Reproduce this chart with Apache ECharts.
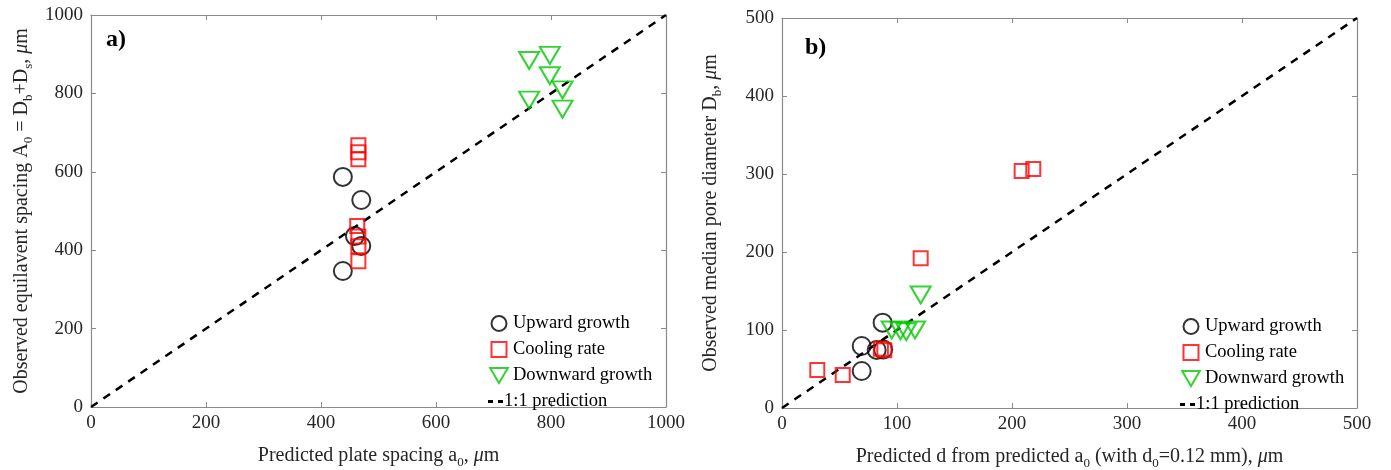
<!DOCTYPE html>
<html>
<head>
<meta charset="utf-8">
<script src="https://cdn.jsdelivr.net/npm/echarts@6/dist/echarts.min.js"></script>
<style>html,body{margin:0;padding:0;background:#fff;}#c{width:1391px;height:470px;}</style>
</head>
<body>
<div id="c"></div>
<script>
// ---- Panel a) data ----
const aUpX = [438, 470, 459, 470, 438];
const aUpY = [587, 528, 436, 411, 347];
const aCoolX = [465, 465, 465, 463, 465, 465, 465];
const aCoolY = [668, 650, 632, 462, 435, 410, 372];
const aDownX = [762, 798, 798, 820, 762, 820];
const aDownY = [884, 897, 845, 809, 783, 760];
const aLineX = [0, 1000];
const aLineY = [0, 1000];

// ---- Panel b) data ----
const bUpX = [87.5, 69.3, 82.3, 88, 69.3];
const bUpY = [109.4, 79.5, 74.4, 75, 47.4];
const bCoolX = [208.4, 218.5, 120.6, 86, 89, 30.7, 52.8];
const bCoolY = [303.8, 306.4, 191.9, 76, 74, 48.7, 42.3];
const bDownX = [120.6, 95.4, 103, 108, 115.7];
const bDownY = [144.9, 100, 99, 97.8, 100];
const bLineX = [0, 500];
const bLineY = [0, 500];

const names = ['Upward growth', 'Cooling rate', 'Downward growth', '1:1 prediction'];
const zip = (xs, ys) => xs.map((x, i) => [x, ys[i]]);

const FONT = '"Liberation Serif", "DejaVu Serif", serif';
const AXC = '#8a8a8a';
const TXC = '#262626';
const TRI = 'path://M0,0L20,0L10,17Z';
const SQ = 'path://M0,0L14,0L14,14L0,14Z';
const DASH = 'path://M0,0L5,0L5,3L0,3Z M10,0L15,0L15,3L10,3Z M22,3';

const rich = {
  s: { fontFamily: FONT, fontSize: 13, color: TXC, padding: [14, 0, 0, 0] },
  i: { fontFamily: FONT, fontSize: 20, color: TXC, fontStyle: 'italic' },
  n: { fontFamily: FONT, fontSize: 20, color: TXC }
};

function mkX(grid, max, interval, pos, name) {
  const ax = {
    gridIndex: grid, type: 'value', min: 0, max: max, interval: interval, position: pos,
    axisLine: { show: true, onZero: false, lineStyle: { color: AXC, width: 1.2 } },
    axisTick: { show: true, inside: true, length: 5, lineStyle: { color: AXC } },
    axisLabel: { show: pos === 'bottom', fontFamily: FONT, fontSize: 19, color: TXC, margin: 7,
                 formatter: v => String(v) },
    splitLine: { show: false }
  };
  if (name) {
    ax.name = name; ax.nameLocation = 'middle'; ax.nameGap = 35;
    ax.nameTextStyle = { fontFamily: FONT, fontSize: 20, color: TXC, rich: rich };
  }
  return ax;
}
function mkY(grid, max, interval, pos, name, gap) {
  const ax = {
    gridIndex: grid, type: 'value', min: 0, max: max, interval: interval, position: pos,
    axisLine: { show: true, onZero: false, lineStyle: { color: AXC, width: 1.2 } },
    axisTick: { show: true, inside: true, length: 5, lineStyle: { color: AXC } },
    axisLabel: { show: pos === 'left', fontFamily: FONT, fontSize: 19, color: TXC, margin: 8,
                 formatter: v => String(v) },
    splitLine: { show: false }
  };
  if (name) {
    ax.name = name; ax.nameLocation = 'middle'; ax.nameGap = gap;
    ax.nameTextStyle = { fontFamily: FONT, fontSize: 20, color: TXC, rich: rich };
  }
  return ax;
}

function mkSeries(xi, yi, up, cool, down, line) {
  const hollow = 'rgba(255,255,255,0)';
  return [
    { name: names[0], type: 'scatter', xAxisIndex: xi, yAxisIndex: yi, data: up, symbol: 'circle', symbolSize: 18,
      itemStyle: { color: hollow, borderColor: '#000', borderWidth: 2 }, emphasis: { disabled: true }, z: 3 },
    { name: names[1], type: 'scatter', xAxisIndex: xi, yAxisIndex: yi, data: cool, symbol: 'rect', symbolSize: 14,
      itemStyle: { color: hollow, borderColor: '#ff0000', borderWidth: 2 }, emphasis: { disabled: true }, z: 3 },
    { name: names[2], type: 'scatter', xAxisIndex: xi, yAxisIndex: yi, data: down, symbol: TRI, symbolSize: [20, 17],
      itemStyle: { color: hollow, borderColor: '#00c800', borderWidth: 2 }, emphasis: { disabled: true }, z: 3 },
    { name: names[3], type: 'line', xAxisIndex: xi, yAxisIndex: yi, data: line, symbol: 'none', silent: true,
      itemStyle: { color: '#000' },
      lineStyle: { color: '#000', width: 2.5, type: [8, 7] }, z: 2 }
  ];
}

function mkLegend(left, top) {
  return {
    data: [
      { name: names[0], icon: 'circle' },
      { name: names[1], icon: SQ },
      { name: names[2], icon: TRI },
      { name: names[3], icon: DASH, itemStyle: { color: '#000', borderWidth: 0 },
        textStyle: { padding: [0, 0, 0, -11] } }
    ],
    orient: 'vertical', left: left, top: top, itemWidth: 22, itemHeight: 15, itemGap: 7,
    selectedMode: false, padding: 0, symbolKeepAspect: true,
    textStyle: { fontFamily: FONT, fontSize: 18.5, color: '#000', padding: [0, 0, 0, -2] }
  };
}

const chart = echarts.init(document.getElementById('c'), null, { renderer: 'canvas' });
chart.setOption({
  backgroundColor: '#fff',
  animation: false,
  grid: [
    { left: 91, top: 15, width: 575, height: 392, containLabel: false, outerBoundsMode: 'none' },
    { left: 782, top: 18, width: 575, height: 390, containLabel: false, outerBoundsMode: 'none' }
  ],
  xAxis: [
    mkX(0, 1000, 200, 'bottom', '{n|Predicted plate spacing a}{s|0}{n|, }{i|μ}{n|m}'),
    mkX(0, 1000, 200, 'top'),
    mkX(1, 500, 100, 'bottom', '{n|Predicted d from predicted a}{s|0}{n| (with d}{s|0}{n|=0.12 mm), }{i|μ}{n|m}'),
    mkX(1, 500, 100, 'top')
  ],
  yAxis: [
    mkY(0, 1000, 200, 'left', '{n|Observed equilavent spacing A}{s|0}{n| = D}{s|b}{n|+D}{s|s}{n|, }{i|μ}{n|m}', 56),
    mkY(0, 1000, 200, 'right'),
    mkY(1, 500, 100, 'left', '{n|Observed median pore diameter D}{s|b}{n|, }{i|μ}{n|m}', 58),
    mkY(1, 500, 100, 'right')
  ],
  legend: [ mkLegend(488, 314), mkLegend(1180, 317) ],
  graphic: [
    { type: 'text', left: 106, top: 28, style: { text: 'a)', font: 'bold 24px "Liberation Serif"', fill: '#000' } },
    { type: 'text', left: 805, top: 36, style: { text: 'b)', font: 'bold 24px "Liberation Serif"', fill: '#000' } }
  ],
  series: [].concat(
    mkSeries(0, 0, zip(aUpX, aUpY), zip(aCoolX, aCoolY), zip(aDownX, aDownY), zip(aLineX, aLineY)),
    mkSeries(2, 2, zip(bUpX, bUpY), zip(bCoolX, bCoolY), zip(bDownX, bDownY), zip(bLineX, bLineY))
  )
});
</script>
</body>
</html>
